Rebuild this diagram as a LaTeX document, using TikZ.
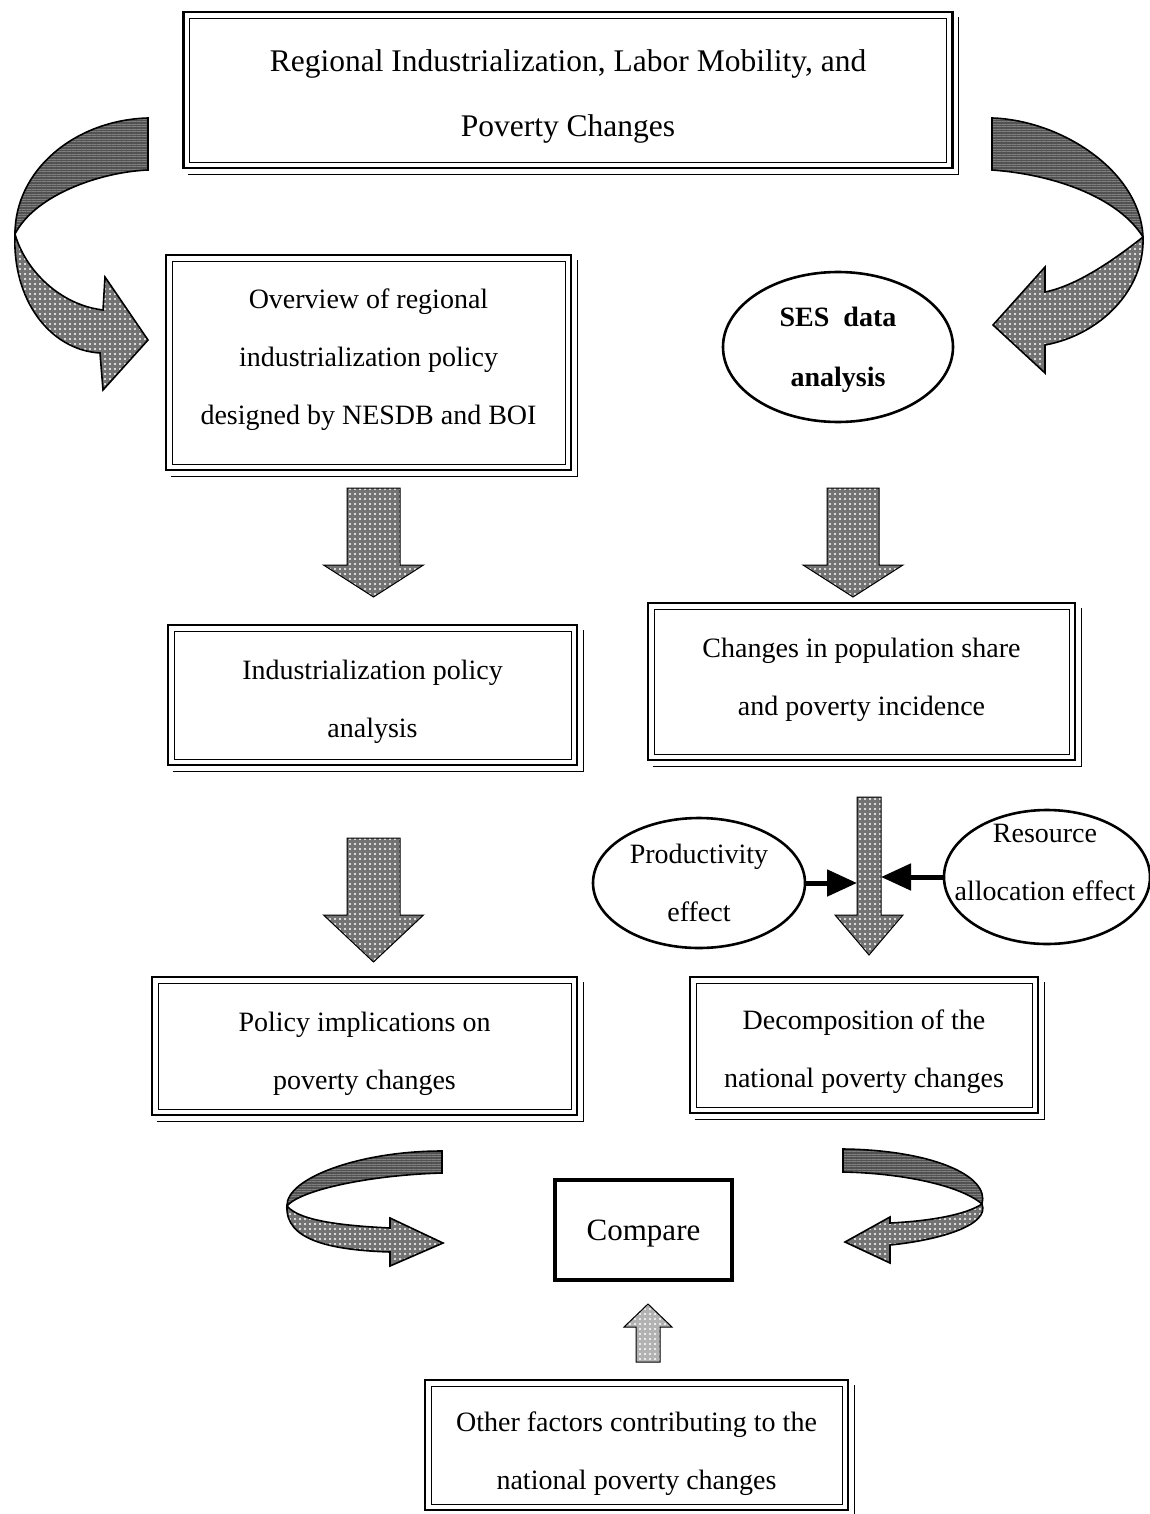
\documentclass[tikz,border=0pt]{standalone}
\usepackage{fontspec}
\setmainfont{Liberation Serif}
\usetikzlibrary{shapes.geometric, arrows.meta, patterns.meta}

\tikzset{
  dbox/.style={draw, line width=2.6pt, inner sep=0pt,
    path picture={\draw[line width=0.9pt]
      ([shift={(6,6)}]path picture bounding box.north west) rectangle
      ([shift={(-6,-6)}]path picture bounding box.south east);}},
  ell/.style={draw, ellipse, line width=2.6pt, inner sep=0pt, align=center,
    font=\fontsize{28}{58}\selectfont},
  lbl/.style={align=center, inner sep=0pt, font=\fontsize{28}{58}\selectfont},
  blk/.style={draw, line width=1pt, preaction={fill=black!55},
    pattern={Dots[distance=5pt, radius=1.1pt]}, pattern color=white},
  lightblk/.style={draw, line width=1pt, preaction={fill=black!30},
    pattern={Dots[distance=5pt, radius=1.1pt]}, pattern color=white},
  dark/.style={draw, line width=1.6pt, preaction={fill=black!68},
    pattern={Lines[distance=2.5pt, angle=0, line width=0.6pt]}, pattern color=black!50},
  effarrow/.style={line width=5pt, -{Triangle[length=30pt,width=26pt]}},
}

\newcommand\shadowlines[1]{\draw[line width=0.9pt]
  ([shift={(6,5)}]#1.south west) -- ([shift={(5,5)}]#1.south east) -- ([shift={(5,6)}]#1.north east);}
% block arrow: xc, ytop, yhead, ytip, shaft half width, head half width, style
\newcommand\blockarrow[7]{\draw[#7] (#1-#5,#2) -- (#1+#5,#2) -- (#1+#5,#3) -- (#1+#6,#3)
  -- (#1,#4) -- (#1-#6,#3) -- (#1-#5,#3) -- cycle;}

\begin{document}
\begin{tikzpicture}[x=1pt, y=-1pt]
\useasboundingbox (0,0) rectangle (1150,1514);

% boxes
\node[dbox, minimum width=769, minimum height=156] (T) at (568,90) {};
\node[lbl, font=\fontsize{31.5}{65}\selectfont] (Tt) at (568,96)
  {Regional Industrialization, Labor Mobility, and\\Poverty Changes};
\node[dbox, minimum width=405, minimum height=215] (A) at (368.5,362.5) {};
\node[lbl] (At) at (368.5,360)
  {Overview of regional\\industrialization policy\\designed by NESDB and BOI};
\node[ell, minimum width=230, minimum height=150] (S) at (838,347) {};
\node[lbl, font=\bfseries\fontsize{28}{60}\selectfont] (St) at (838,350) {SES\ \ data\\analysis};
\node[dbox, minimum width=409, minimum height=140] (B) at (372.5,695) {};
\node[lbl] (Bt) at (372.5,702) {Industrialization policy\\analysis};
\node[dbox, minimum width=427, minimum height=157] (C) at (861.5,681.5) {};
\node[lbl] (Ct) at (861.5,680) {Changes in population share\\and poverty incidence};
\node[ell, minimum width=212, minimum height=130] (P) at (699,883)
  {Productivity\\effect};
\node[ell, minimum width=206, minimum height=134] (R) at (1047,877) {};
\node[lbl] (Rt) at (1045,862) {Resource\\allocation effect};
\node[dbox, minimum width=425, minimum height=138] (D) at (364.5,1046) {};
\node[lbl] (Dt) at (364.5,1054) {Policy implications on\\poverty changes};
\node[dbox, minimum width=348, minimum height=136] (E) at (864,1045) {};
\node[lbl] (Et) at (864,1052) {Decomposition of the\\national poverty changes};
\node[draw, line width=4pt, minimum width=177, minimum height=100, inner sep=0pt] (CMP) at (643.5,1230) {};
\node[inner sep=0pt, font=\fontsize{31}{36}\selectfont] (CMPt) at (643.5,1234) {Compare};
\node[dbox, minimum width=423, minimum height=130] (F) at (636.5,1445) {};
\node[lbl] (Ft) at (636.5,1454) {Other factors contributing to the\\national poverty changes};

\foreach \n in {T,A,B,C,D,E,F} {\shadowlines{\n}}

% straight block arrows
\blockarrow{373.5}{488}{565}{597}{26.5}{50}{blk}
\blockarrow{853}{488}{565}{597}{26}{50}{blk}
\blockarrow{373.5}{838}{915}{962}{26.5}{50}{blk}
\blockarrow{869}{797}{915}{955}{12}{34}{blk}
\blockarrow{648}{1362}{1327}{1304}{12}{24}{lightblk}

% effect arrows into the middle arrow
\coordinate (ML) at (857,880);
\coordinate (MR) at (881,880);
\draw[effarrow] (P.east) -- (P.east -| ML);
\draw[effarrow] (R.west) -- (R.west -| MR);

% top-left twisted arrow
\draw[dark] (148,118) .. controls (75,120) and (15,170) .. (15,234)
  .. controls (35,195) and (100,172) .. (148,170) -- cycle;
\draw[blk, line width=1.6pt] (15,234) .. controls (25,270) and (60,305) .. (103,310)
  -- (105,277) -- (148,340) -- (103,390) -- (100,353)
  .. controls (50,350) and (12,300) .. (15,234) -- cycle;

% top-right twisted arrow
\draw[dark] (992,118) .. controls (1060,120) and (1140,170) .. (1143,237)
  .. controls (1120,200) and (1060,175) .. (992,170) -- cycle;
\draw[blk, line width=1.6pt] (1143,237) .. controls (1120,255) and (1080,285) .. (1045,292)
  -- (1045,267) -- (993,325) -- (1045,373) -- (1045,345)
  .. controls (1100,335) and (1145,290) .. (1143,237) -- cycle;

% bottom-left twisted arrow
\draw[dark] (442,1151) .. controls (360,1151) and (286,1178) .. (287,1206)
  .. controls (300,1190) and (370,1175) .. (442,1173) -- cycle;
\draw[blk, line width=1.6pt] (287,1206) .. controls (300,1222) and (350,1226) .. (390,1228)
  -- (390,1218) -- (443,1243) -- (390,1266) -- (390,1252)
  .. controls (330,1250) and (285,1240) .. (287,1206) -- cycle;

% bottom-right twisted arrow
\draw[dark] (843,1149) .. controls (930,1150) and (990,1175) .. (982,1204)
  .. controls (960,1185) and (900,1173) .. (843,1172) -- cycle;
\draw[blk, line width=1.6pt] (982,1204) .. controls (965,1215) and (930,1221) .. (890,1223)
  -- (890,1217) -- (845,1242) -- (890,1263) -- (890,1245)
  .. controls (940,1240) and (990,1225) .. (982,1204) -- cycle;
\end{tikzpicture}
\end{document}
